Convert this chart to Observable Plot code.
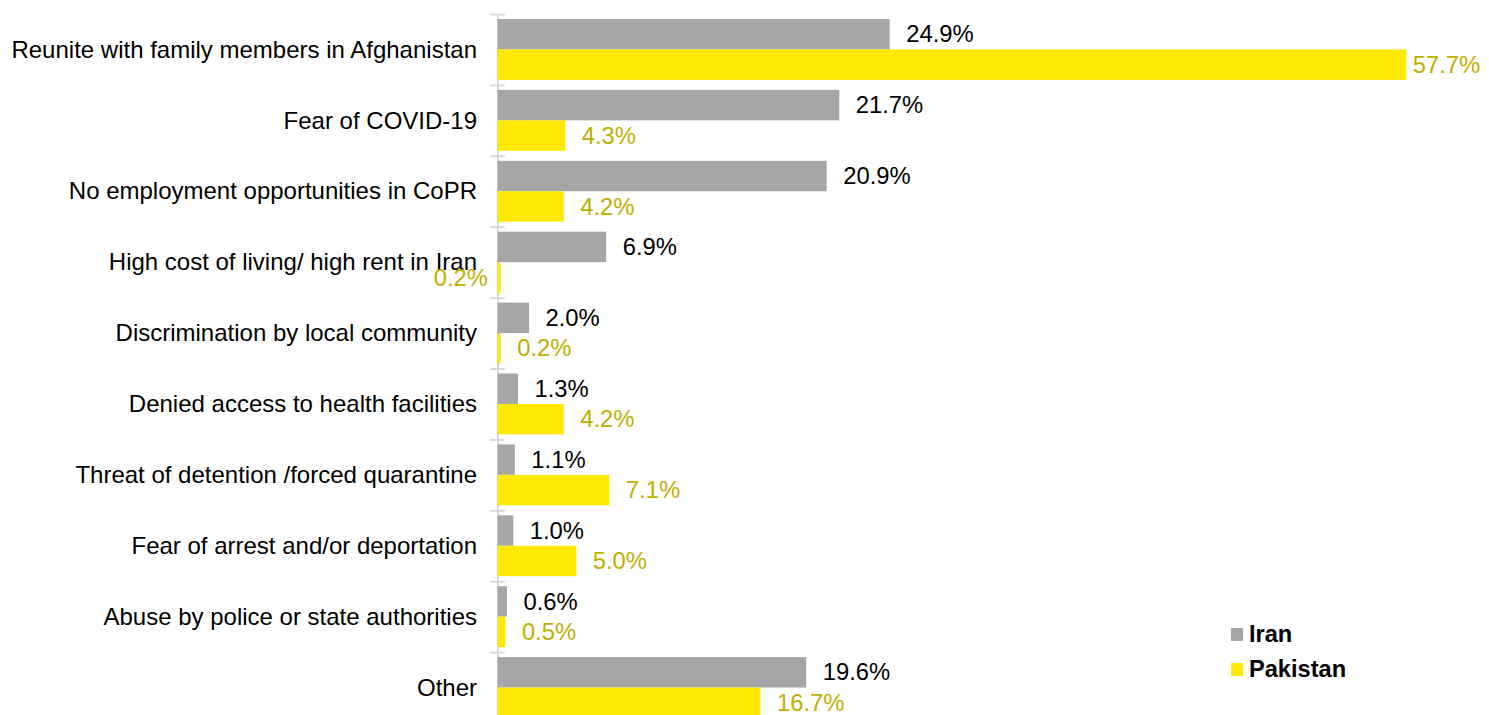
<!DOCTYPE html>
<html><head><meta charset="utf-8">
<script src="https://cdn.jsdelivr.net/npm/d3@7"></script>
<script src="https://cdn.jsdelivr.net/npm/@observablehq/plot@0.6"></script>
<style>
body{margin:0;background:#fff;font-family:"Liberation Sans",Arial,sans-serif;}
#wrap{position:relative;width:1489px;height:715px;overflow:hidden;}
#legend{position:absolute;left:1231px;top:617px;font-weight:bold;font-size:23.6px;color:#000;}
#legend .row{display:flex;align-items:center;height:35px;}
#legend .sw{width:12px;height:13px;margin-right:6px;}
</style></head><body><div id="wrap"></div>
<script>
const categories = [
  "Reunite with family members in Afghanistan",
  "Fear of COVID-19",
  "No employment opportunities in CoPR",
  "High cost of living/ high rent in Iran",
  "Discrimination by local community",
  "Denied access to health facilities",
  "Threat of detention /forced quarantine",
  "Fear of arrest and/or deportation",
  "Abuse by police or state authorities",
  "Other"
];
const iran = [24.9, 21.7, 20.9, 6.9, 2.0, 1.3, 1.1, 1.0, 0.6, 19.6];
const pakistan = [57.7, 4.3, 4.2, 0.2, 0.2, 4.2, 7.1, 5.0, 0.5, 16.7];
const seriesNames = ["Iran", "Pakistan"];
const barColors = ["#a6a6a6", "#ffe900"];
const labelColors = ["#000000", "#bfae00"];

const rows = categories.map((c, i) => ({category: c, iran: iran[i], pakistan: pakistan[i], idx: i}));
const yTop = 14, yBottom = 723;
const step = (yBottom - yTop) / categories.length;
const half = step / 2;
const pad = 5;
const off = (half - pad) / 2; // label offset from band center
const fmt = v => v.toFixed(1) + "%";
const x0 = 497.5, pxPer = 15.75;

const chart = Plot.plot({
  width: 1489, height: 715,
  marginTop: yTop, marginBottom: 0, marginLeft: x0, marginRight: 1489 - (x0 + pxPer * 60),
  style: {fontFamily: "'Liberation Sans', Arial, sans-serif", fontSize: "23.8px", background: "#fff", color: "#000"},
  x: {domain: [0, 60], range: [x0, x0 + pxPer * 60], axis: null},
  y: {domain: categories, range: [yTop, yBottom], padding: 0, round: false, axis: null},
  marks: [
    Plot.ruleX([0], {stroke: "#d9d9d9", strokeWidth: 2}),
    Plot.ruleY(categories, {y: d => d, dy: -half, x1: () => -0.46, x2: () => 0.46, stroke: "#d9d9d9", strokeWidth: 2}),
    Plot.barX(rows, {x: "iran", y: "category", fill: barColors[0], insetTop: pad, insetBottom: half}),
    Plot.barX(rows, {x: "pakistan", y: "category", fill: barColors[1], insetTop: half, insetBottom: pad}),
    Plot.axisY({tickSize: 0, tickPadding: 21, fontSize: "24px", fill: "#000", label: null}),
    Plot.text(rows, {x: "iran", y: "category", text: d => fmt(d.iran), dx: 16, dy: -off, textAnchor: "start", fill: labelColors[0]}),
    Plot.text(rows.filter(d => d.pakistan < 50 && d.idx !== 3), {x: "pakistan", y: "category", text: d => fmt(d.pakistan), dx: 16, dy: off, textAnchor: "start", fill: labelColors[1]}),
    Plot.text(rows.filter(d => d.pakistan >= 50), {x: "pakistan", y: "category", text: d => fmt(d.pakistan), dx: 6, dy: off, textAnchor: "start", fill: labelColors[1]}),
    Plot.text(rows.filter(d => d.idx === 3), {x: () => 0, y: "category", text: d => fmt(d.pakistan), dx: -10, dy: off, textAnchor: "end", fill: labelColors[1]})
  ]
});
const wrap = document.getElementById("wrap");
wrap.appendChild(chart);
const legend = document.createElement("div");
legend.id = "legend";
seriesNames.forEach((n, i) => {
  const r = document.createElement("div");
  r.className = "row";
  const sw = document.createElement("span");
  sw.className = "sw";
  sw.style.background = barColors[i];
  const t = document.createElement("span");
  t.textContent = n;
  r.appendChild(sw); r.appendChild(t);
  legend.appendChild(r);
});
wrap.appendChild(legend);
</script></body></html>
